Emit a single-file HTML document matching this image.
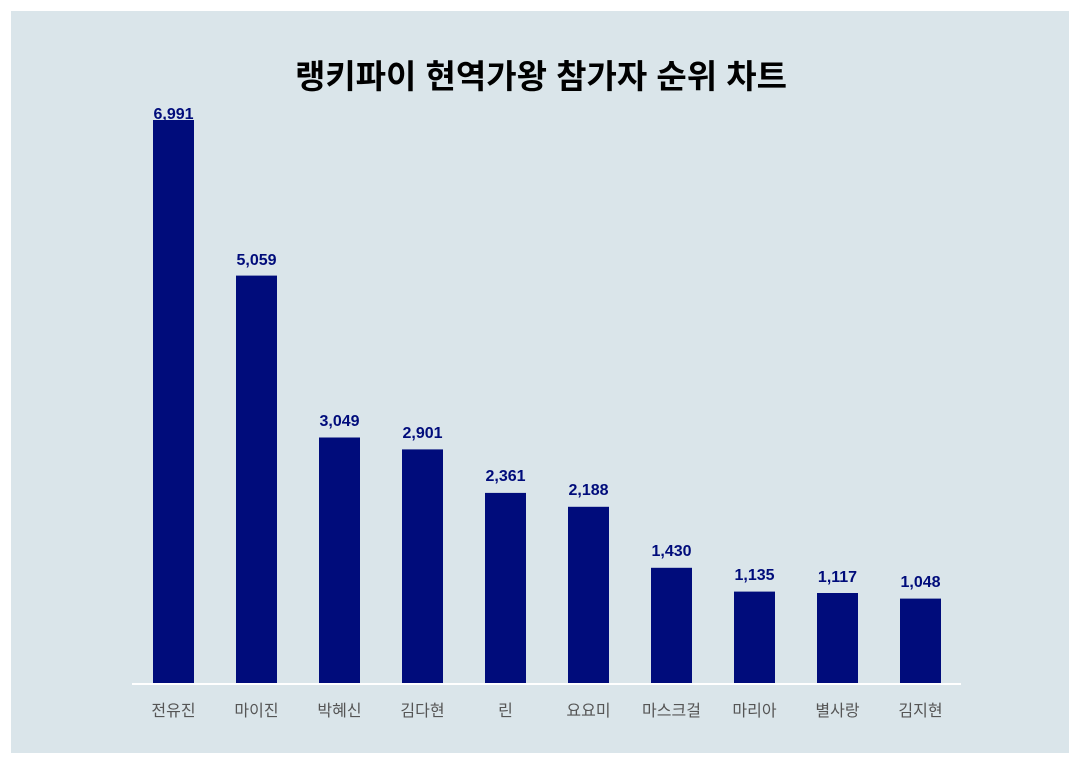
<!DOCTYPE html>
<html><head><meta charset="utf-8"><style>
html,body{margin:0;padding:0;background:#fff;}
svg{display:block;}
</style></head><body>
<svg width="1080" height="764" xmlns="http://www.w3.org/2000/svg" font-family="'Liberation Sans','Noto Sans CJK KR',sans-serif">
<rect x="0" y="0" width="1080" height="764" fill="#fff"/>
<rect x="11" y="11" width="1058" height="742" fill="#dae5ea"/>
<text x="541" y="88" text-anchor="middle" font-size="33" font-weight="bold" fill="#000">랭키파이 현역가왕 참가자 순위 차트</text>
<g fill="#000c7b">
<rect x="153" y="120" width="41" height="563"/>
<rect x="236" y="275.6" width="41" height="407.4"/>
<rect x="319" y="437.5" width="41" height="245.5"/>
<rect x="402" y="449.4" width="41" height="233.6"/>
<rect x="485" y="492.9" width="41" height="190.1"/>
<rect x="568" y="506.8" width="41" height="176.2"/>
<rect x="651" y="567.8" width="41" height="115.2"/>
<rect x="734" y="591.6" width="41" height="91.4"/>
<rect x="817" y="593" width="41" height="90"/>
<rect x="900" y="598.6" width="41" height="84.4"/>
</g>
<line x1="132" y1="684" x2="961" y2="684" stroke="#fff" stroke-width="2"/>
<g font-size="16" font-weight="bold" fill="#000c7b" text-anchor="middle">
<text x="173.5" y="119">6,991</text>
<text x="256.5" y="265">5,059</text>
<text x="339.5" y="426">3,049</text>
<text x="422.5" y="438">2,901</text>
<text x="505.5" y="481">2,361</text>
<text x="588.5" y="495">2,188</text>
<text x="671.5" y="556">1,430</text>
<text x="754.5" y="580">1,135</text>
<text x="837.5" y="582">1,117</text>
<text x="920.5" y="587">1,048</text>
</g>
<g font-size="16" fill="#555" text-anchor="middle">
<text x="173.5" y="716">전유진</text>
<text x="256.5" y="716">마이진</text>
<text x="339.5" y="716">박혜신</text>
<text x="422.5" y="716">김다현</text>
<text x="505.5" y="716">린</text>
<text x="588.5" y="716">요요미</text>
<text x="671.5" y="716">마스크걸</text>
<text x="754.5" y="716">마리아</text>
<text x="837.5" y="716">별사랑</text>
<text x="920.5" y="716">김지현</text>
</g>
</svg>
</body></html>
